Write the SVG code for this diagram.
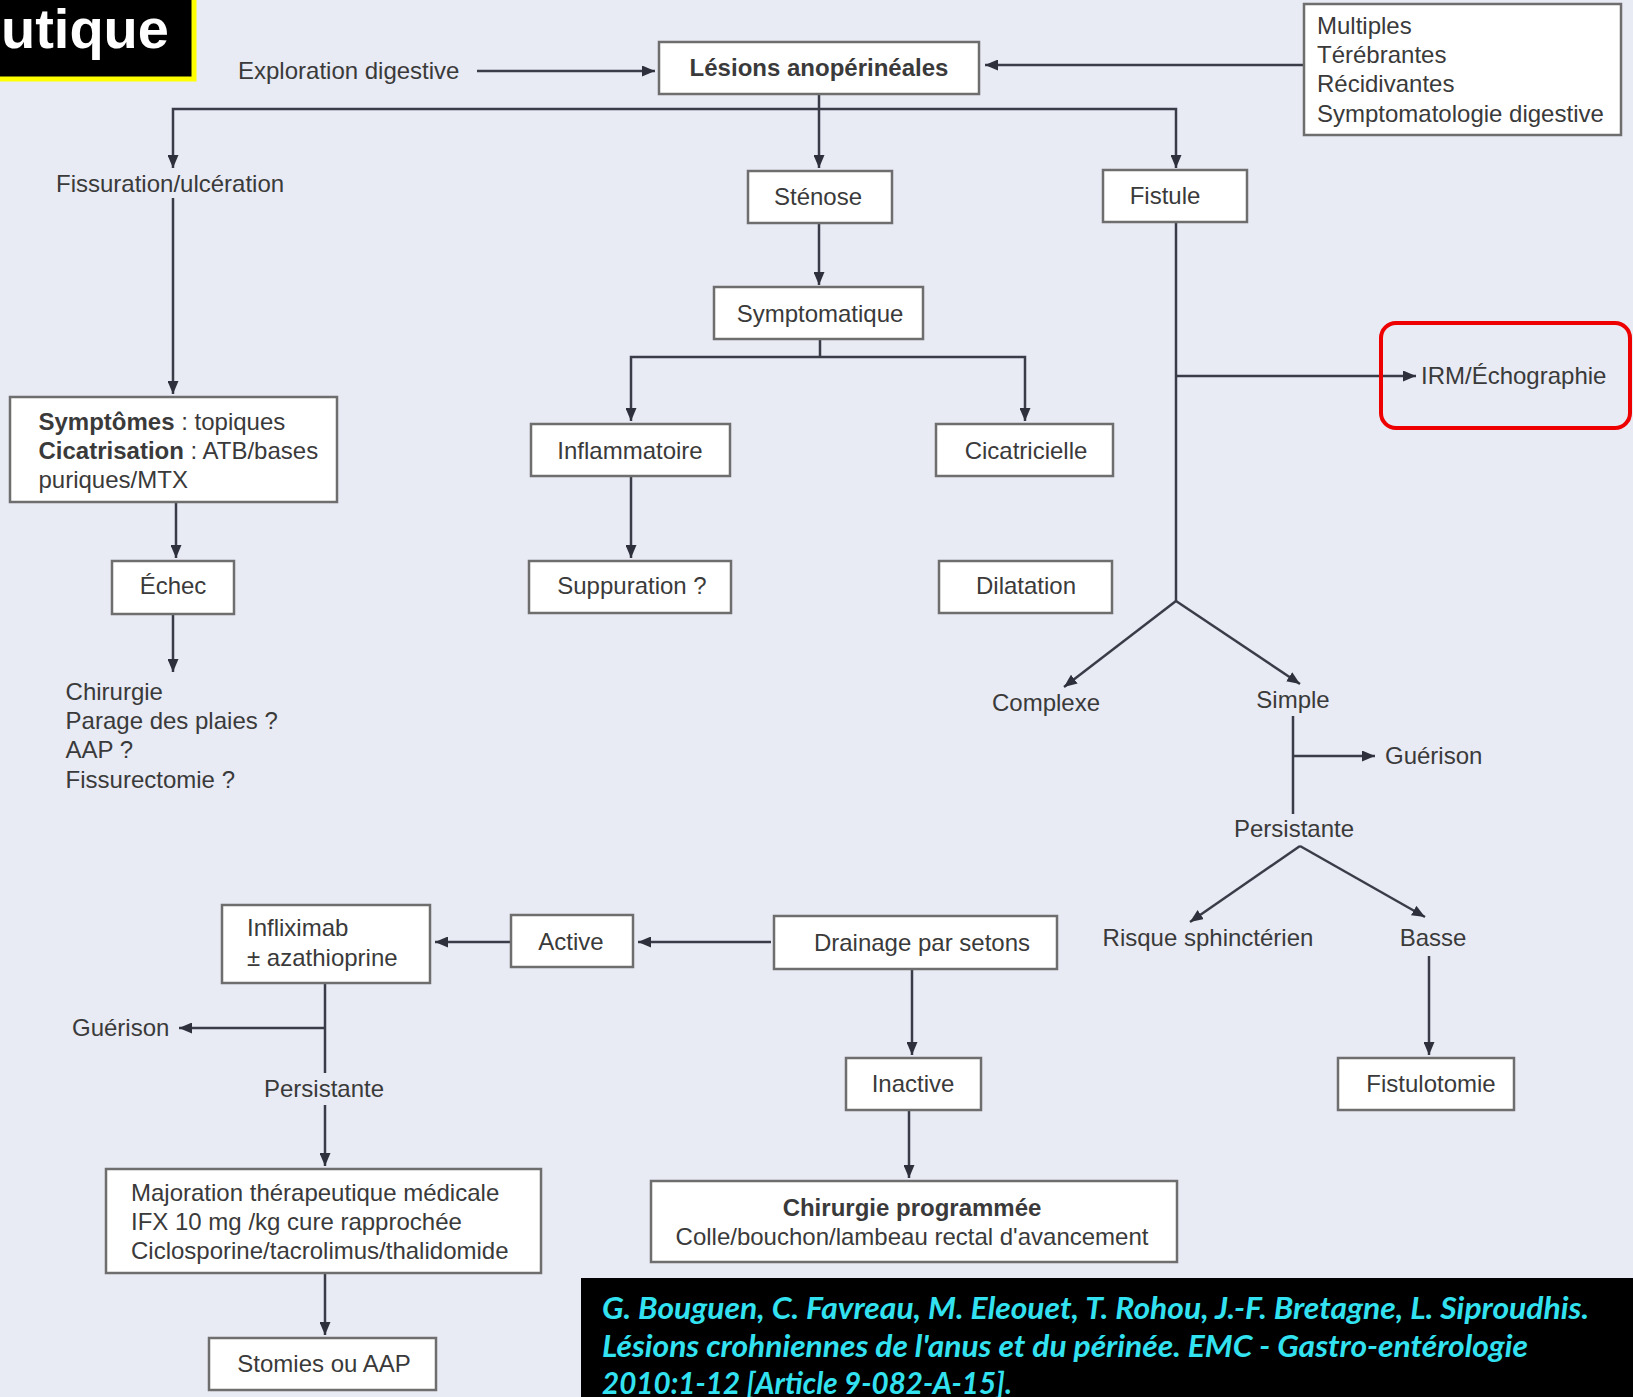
<svg xmlns="http://www.w3.org/2000/svg" width="1633" height="1397" viewBox="0 0 1633 1397">
<defs>
<style>
.bg{fill:#e8eaf4}
.box{fill:#ffffff;stroke:#6e6e6e;stroke-width:2.5}
.t{font-family:"Liberation Sans",Arial,sans-serif;font-size:24px;fill:#3a3a3a}
.c{text-anchor:middle}
.b{font-weight:bold}
.conn{stroke:#3a3d48;stroke-width:2.5;fill:none}
.cite{font-family:Lato,"Open Sans","Liberation Sans",sans-serif;font-size:30px;font-weight:bold;font-style:italic;fill:#33e2f0}
</style>
<marker id="ah" viewBox="0 0 13 11" refX="13" refY="5.5" markerWidth="13" markerHeight="11" markerUnits="userSpaceOnUse" orient="auto">
<path d="M0,0 L13,5.5 L0,11 z" fill="#2e313b"/>
</marker>
</defs>
<rect class="bg" x="0" y="0" width="1633" height="1397"/>

<g id="title">
<rect x="-10" y="-10" width="204" height="89" fill="#000000" stroke="#ffff00" stroke-width="5"/>
<text x="1" y="48" font-family="'Liberation Sans',Arial,sans-serif" font-size="56" font-weight="bold" fill="#ffffff">utique</text>
</g>

<g id="connectors">
<path class="conn" d="M477,71 H655" marker-end="url(#ah)"/>
<path class="conn" d="M1304,65 H985" marker-end="url(#ah)"/>
<path class="conn" d="M819,94 V168" marker-end="url(#ah)"/>
<path class="conn" d="M819,109 H173 V168" marker-end="url(#ah)"/>
<path class="conn" d="M819,109 H1176 V168" marker-end="url(#ah)"/>
<path class="conn" d="M173,198 V394" marker-end="url(#ah)"/>
<path class="conn" d="M819,223 V285" marker-end="url(#ah)"/>
<path class="conn" d="M820,340 V357"/>
<path class="conn" d="M820,357 H631 V421" marker-end="url(#ah)"/>
<path class="conn" d="M820,357 H1025 V421" marker-end="url(#ah)"/>
<path class="conn" d="M631,476 V558" marker-end="url(#ah)"/>
<path class="conn" d="M1176,222 V601"/>
<path class="conn" d="M1176,376 H1416" marker-end="url(#ah)"/>
<path class="conn" d="M1176,601 L1064,687" marker-end="url(#ah)"/>
<path class="conn" d="M1176,601 L1300,684" marker-end="url(#ah)"/>
<path class="conn" d="M1293,716 V814"/>
<path class="conn" d="M1293,756 H1375" marker-end="url(#ah)"/>
<path class="conn" d="M1300,846 L1190,922" marker-end="url(#ah)"/>
<path class="conn" d="M1300,846 L1425,917" marker-end="url(#ah)"/>
<path class="conn" d="M1429,956 V1055" marker-end="url(#ah)"/>
<path class="conn" d="M176,502 V558" marker-end="url(#ah)"/>
<path class="conn" d="M173,615 V672" marker-end="url(#ah)"/>
<path class="conn" d="M771,942 H638" marker-end="url(#ah)"/>
<path class="conn" d="M511,942 H435" marker-end="url(#ah)"/>
<path class="conn" d="M325,983 V1073"/>
<path class="conn" d="M325,1028 H179" marker-end="url(#ah)"/>
<path class="conn" d="M325,1105 V1166" marker-end="url(#ah)"/>
<path class="conn" d="M325,1273 V1335" marker-end="url(#ah)"/>
<path class="conn" d="M912,970 V1055" marker-end="url(#ah)"/>
<path class="conn" d="M909,1110 V1178" marker-end="url(#ah)"/>
</g>

<g id="exploration"><text class="t" x="238" y="79">Exploration digestive</text></g>
<g id="lesions"><rect class="box" x="659" y="42" width="320" height="52"/><text class="t c b" x="819" y="76">Lésions anopérinéales</text></g>
<g id="criteres"><rect class="box" x="1304" y="4" width="317" height="131"/>
<text class="t" x="1317" y="34">Multiples</text>
<text class="t" x="1317" y="63">Térébrantes</text>
<text class="t" x="1317" y="92">Récidivantes</text>
<text class="t" x="1317" y="121.5">Symptomatologie digestive</text></g>
<g id="fissuration"><text class="t" x="56" y="192">Fissuration/ulcération</text></g>
<g id="stenose"><rect class="box" x="748" y="171" width="144" height="52"/><text class="t c" x="818" y="205">Sténose</text></g>
<g id="fistule"><rect class="box" x="1103" y="170" width="144" height="52"/><text class="t c" x="1165" y="204">Fistule</text></g>
<g id="symptomatique"><rect class="box" x="714" y="287" width="209" height="52"/><text class="t c" x="820" y="322">Symptomatique</text></g>
<g id="inflammatoire"><rect class="box" x="531" y="424" width="199" height="52"/><text class="t c" x="630" y="459">Inflammatoire</text></g>
<g id="cicatricielle"><rect class="box" x="936" y="424" width="177" height="52"/><text class="t c" x="1026" y="459">Cicatricielle</text></g>
<g id="suppuration"><rect class="box" x="529" y="561" width="202" height="52"/><text class="t c" x="632" y="594">Suppuration ?</text></g>
<g id="dilatation"><rect class="box" x="939" y="561" width="173" height="52"/><text class="t c" x="1026" y="594">Dilatation</text></g>
<g id="irm"><rect x="1381" y="323" width="249" height="105" rx="15" fill="none" stroke="#ee0000" stroke-width="4"/><text class="t" x="1421" y="384">IRM/Échographie</text></g>
<g id="complexe"><text class="t c" x="1046" y="711">Complexe</text></g>
<g id="simple"><text class="t c" x="1293" y="708">Simple</text></g>
<g id="guerison1"><text class="t" x="1385" y="764">Guérison</text></g>
<g id="persistante1"><text class="t c" x="1294" y="837">Persistante</text></g>
<g id="risque"><text class="t c" x="1208" y="946">Risque sphinctérien</text></g>
<g id="basse"><text class="t c" x="1433" y="946">Basse</text></g>
<g id="fistulotomie"><rect class="box" x="1338" y="1058" width="176" height="52"/><text class="t c" x="1431" y="1092">Fistulotomie</text></g>
<g id="symptomes"><rect class="box" x="10" y="397" width="327" height="105"/>
<text class="t" x="38.5" y="430"><tspan class="b">Symptômes</tspan> : topiques</text>
<text class="t" x="38.5" y="459"><tspan class="b">Cicatrisation</tspan> : ATB/bases</text>
<text class="t" x="38.5" y="488">puriques/MTX</text></g>
<g id="echec"><rect class="box" x="112" y="561" width="122" height="53"/><text class="t c" x="173" y="594">Échec</text></g>
<g id="chirurgie"><text class="t" x="65.6" y="700">Chirurgie</text>
<text class="t" x="65.6" y="729">Parage des plaies ?</text>
<text class="t" x="65.6" y="758">AAP ?</text>
<text class="t" x="65.6" y="788">Fissurectomie ?</text></g>
<g id="drainage"><rect class="box" x="774" y="916" width="283" height="53"/><text class="t c" x="922" y="951">Drainage par setons</text></g>
<g id="active"><rect class="box" x="511" y="915" width="122" height="52"/><text class="t c" x="571" y="950">Active</text></g>
<g id="infliximab"><rect class="box" x="222" y="905" width="208" height="78"/>
<text class="t" x="247" y="936">Infliximab</text>
<text class="t" x="247" y="966">± azathioprine</text></g>
<g id="guerison2"><text class="t" x="72" y="1036">Guérison</text></g>
<g id="persistante2"><text class="t c" x="324" y="1097">Persistante</text></g>
<g id="majoration"><rect class="box" x="106" y="1169" width="435" height="104"/>
<text class="t" x="131" y="1200.5">Majoration thérapeutique médicale</text>
<text class="t" x="131" y="1229.7">IFX 10 mg /kg cure rapprochée</text>
<text class="t" x="131" y="1258.8">Ciclosporine/tacrolimus/thalidomide</text></g>
<g id="stomies"><rect class="box" x="209" y="1338" width="227" height="52"/><text class="t c" x="324" y="1372">Stomies ou AAP</text></g>
<g id="inactive"><rect class="box" x="846" y="1058" width="135" height="52"/><text class="t c" x="913" y="1092">Inactive</text></g>
<g id="chirurgie-programmee"><rect class="box" x="651" y="1181" width="526" height="81"/>
<text class="t c b" x="912" y="1216">Chirurgie programmée</text>
<text class="t c" x="912" y="1245">Colle/bouchon/lambeau rectal d'avancement</text></g>

<g id="citation">
<rect x="581" y="1278" width="1060" height="130" fill="#000000"/>
<text class="cite" x="602" y="1319" textLength="987" lengthAdjust="spacingAndGlyphs">G. Bouguen, C. Favreau, M. Eleouet, T. Rohou, J.-F. Bretagne, L. Siproudhis.</text>
<text class="cite" x="602" y="1357" textLength="926" lengthAdjust="spacingAndGlyphs">Lésions crohniennes de l'anus et du périnée. EMC - Gastro-entérologie</text>
<text class="cite" x="602" y="1394" textLength="410" lengthAdjust="spacingAndGlyphs">2010:1-12 [Article 9-082-A-15].</text>
</g>
</svg>
